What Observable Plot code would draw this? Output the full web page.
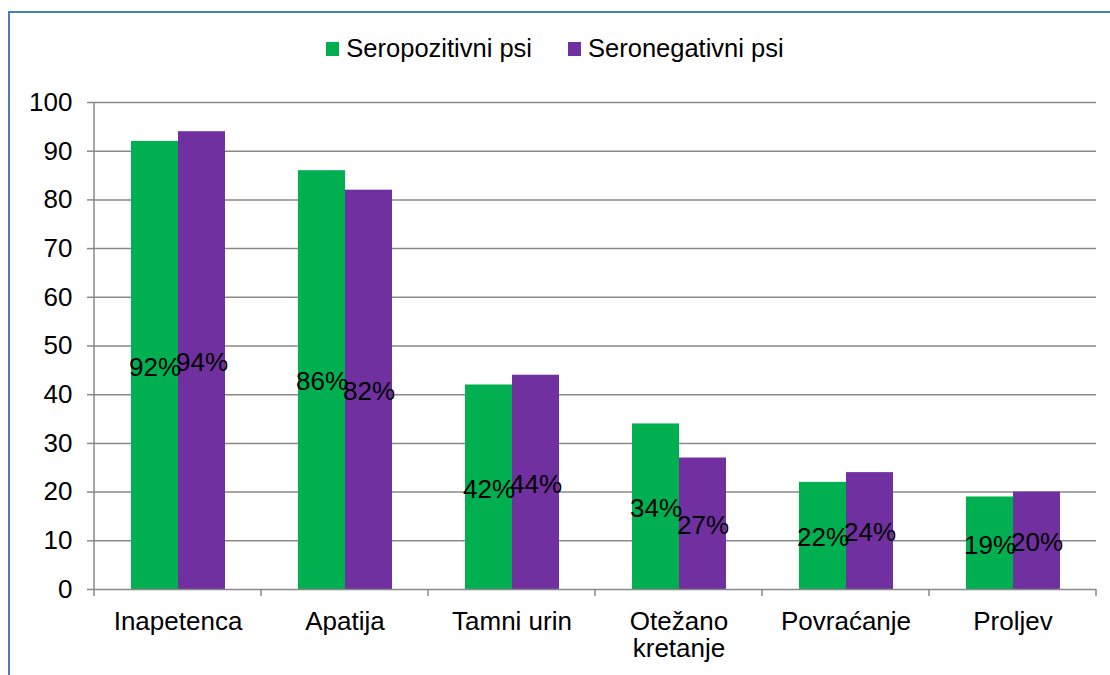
<!DOCTYPE html>
<html>
<head>
<meta charset="utf-8">
<script src="https://cdn.jsdelivr.net/npm/d3@7"></script>
<script src="https://cdn.jsdelivr.net/npm/@observablehq/plot@0.6"></script>
<style>
  html, body { margin: 0; padding: 0; background: #fff; }
  body { width: 1110px; height: 675px; position: relative; overflow: hidden; font-family: "Liberation Sans", Arial, sans-serif; }
  #frame { position: absolute; left: 8px; top: 11px; width: 1200px; height: 800px; border-left: 2px solid #4a7ebb; border-top: 2px solid #4a7ebb; }
  #legend { position: absolute; left: 0; top: 36px; width: 1110px; display: flex; justify-content: center; align-items: center; font-size: 25.5px; line-height: 1; color: #000; }
  .item { display: flex; align-items: center; margin: 0 18px; }
  .sw { width: 13px; height: 14px; margin-right: 7px; }
  #chart { position: absolute; left: 0; top: 70px; }
</style>
</head>
<body>
<div id="frame"></div>
<div id="legend"></div>
<div id="chart"></div>
<script>
const categories = ["Inapetenca", "Apatija", "Tamni urin", "Otežano kretanje", "Povraćanje", "Proljev"];
const categoryLabels = ["Inapetenca", "Apatija", "Tamni urin", "Otežano\nkretanje", "Povraćanje", "Proljev"];
const seriesNames = ["Seropozitivni psi", "Seronegativni psi"];
const seropozitivni = [92, 86, 42, 34, 22, 19];
const seronegativni = [94, 82, 44, 27, 24, 20];
const seriesColors = ["#00B050", "#7030A0"];
const yTicks = [0, 10, 20, 30, 40, 50, 60, 70, 80, 90, 100];

const data = [];
categories.forEach((c, i) => {
  data.push({cat: c, series: seriesNames[0], value: seropozitivni[i]});
  data.push({cat: c, series: seriesNames[1], value: seronegativni[i]});
});

// legend
const legend = document.getElementById("legend");
seriesNames.forEach((s, i) => {
  const it = document.createElement("div");
  it.className = "item";
  const sw = document.createElement("span");
  sw.className = "sw";
  sw.style.background = seriesColors[i];
  const t = document.createElement("span");
  t.textContent = s;
  it.appendChild(sw); it.appendChild(t);
  legend.appendChild(it);
});

const gridColor = "#898989";

const chart = Plot.plot({
  width: 1110,
  height: 605,
  marginTop: 32,
  marginBottom: 86,
  marginLeft: 93,
  marginRight: 14,
  style: {fontFamily: "'Liberation Sans', Arial, sans-serif", fontSize: "26px", color: "#000", background: "transparent"},
  fx: {domain: categories, padding: 0, label: null},
  x: {domain: seriesNames, paddingInner: 0, paddingOuter: 0.758, axis: null},
  y: {domain: [0, 100], label: null},
  color: {domain: seriesNames, range: seriesColors},
  marks: [
    Plot.ruleY(yTicks.filter(d => d > 0), {stroke: gridColor, strokeWidth: 1.5}),
    Plot.barY(data, {fx: "cat", x: "series", y: "value", fill: "series", inset: 0}),
    Plot.ruleY([0], {stroke: gridColor, strokeWidth: 1.5}),
    Plot.text(data, {fx: "cat", x: "series", y: d => d.value / 2, dy: 2, text: d => d.value + "%", fill: "#000", fontSize: 26}),
    Plot.axisY({ticks: yTicks, tickSize: 7, tickPadding: 15, stroke: gridColor, strokeWidth: 1.5, fill: "#000", fontSize: 26, label: null}),
    Plot.axisFx({anchor: "bottom", tickSize: 0, tickPadding: 21, fontSize: 26, lineHeight: 1.05, label: null,
      tickFormat: d => categoryLabels[categories.indexOf(d)]})
  ]
});
document.getElementById("chart").appendChild(chart);

// y axis line and category boundary ticks, positioned with the plot's own scales
const fx = chart.scale("fx");
const ys = chart.scale("y");
const svg = d3.select(chart);
const y0 = ys.apply(0), y100 = ys.apply(100);
const x0 = fx.apply(categories[0]);
svg.append("line").attr("x1", x0).attr("x2", x0).attr("y1", y100).attr("y2", y0)
  .attr("stroke", gridColor).attr("stroke-width", 1.5);
const bounds = categories.map(c => fx.apply(c));
bounds.push(fx.apply(categories[categories.length - 1]) + fx.bandwidth);
bounds.forEach(b => {
  svg.append("line").attr("x1", b).attr("x2", b).attr("y1", y0).attr("y2", y0 + 7)
    .attr("stroke", gridColor).attr("stroke-width", 1.5);
});
</script>
</body>
</html>
